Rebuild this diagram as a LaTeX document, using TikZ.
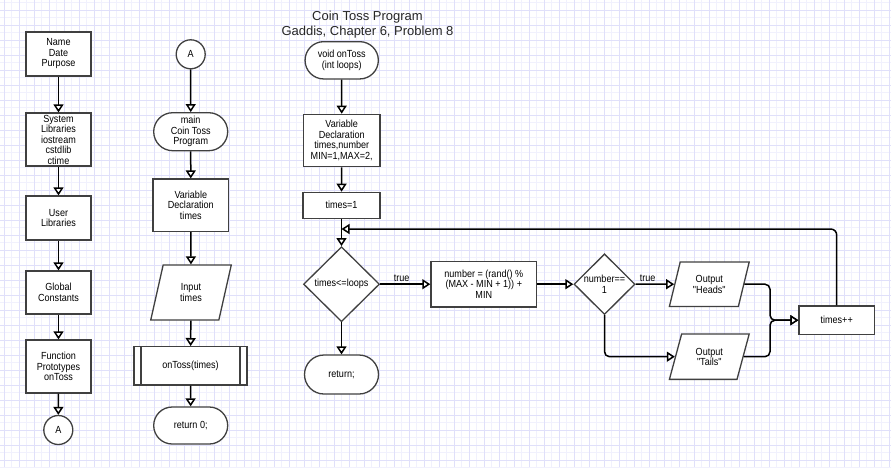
\documentclass[tikz,border=0pt]{standalone}
\usepackage{fontspec}
\setmainfont{Liberation Sans}
\newfontfamily\rf[FakeStretch=0.88]{Liberation Sans}
\usetikzlibrary{shapes.geometric,shapes.misc,arrows.meta}
\definecolor{gmajc}{RGB}{224,224,250}
\definecolor{gminc}{RGB}{241,241,253}
\begin{document}
\begin{tikzpicture}[x=1pt,y=-1pt,
  txt/.style={font=\rf\fontsize{10.3}{10.5}\selectfont, align=center, inner sep=0pt},
  shp/.style={txt, draw=black!75, line width=1.3pt, fill=white, inner sep=1pt},
  proc/.style={shp, rectangle},
  term/.style={shp, rounded rectangle},
  io/.style={shp, trapezium, trapezium stretches=true},
  dec/.style={draw=black!75, line width=1.3pt, fill=white, diamond, inner sep=0pt},
  conn/.style={circle, shp, minimum size=29pt},
  arr/.style={line width=1.5pt, -{Triangle[length=8pt,width=10pt,fill=white]}},
  gmaj/.style={gmajc, line width=1pt},
  gmin/.style={gminc, line width=1pt}
]
\useasboundingbox (0,0) rectangle (891,467);
\fill[white] (0,0) rectangle (891,467);
\foreach \k in {0,...,59} {
  \draw[gmin] ({11.5+15*\k},0) -- ({11.5+15*\k},467);
}
\foreach \k in {0,...,31} {
  \draw[gmin] (0,{2.5+15*\k}) -- (891,{2.5+15*\k});
}
\foreach \k in {0,...,59} {
  \draw[gmaj] ({4+15*\k},0) -- ({4+15*\k},467);
}
\foreach \k in {0,...,30} {
  \draw[gmaj] (0,{10+15*\k}) -- (891,{10+15*\k});
}

% title
\node[font=\fontsize{13}{15}\selectfont, align=center, text=black!85] (title) at (367.5,24.2)
  {Coin Toss Program\\Gaddis, Chapter 6, Problem 8};

% column 1
\node[proc, minimum width=65pt, minimum height=44pt] (n1) at (58.5,54) {Name\\Date\\Purpose};
\node[proc, minimum width=65pt, minimum height=53pt] (n2) at (58.5,139.5) {System\\Libraries\\iostream\\cstdlib\\ctime};
\node[proc, minimum width=65pt, minimum height=44pt] (n3) at (58.5,218) {User\\Libraries};
\node[proc, minimum width=65pt, minimum height=43pt] (n4) at (58.5,292.5) {Global\\Constants};
\node[proc, minimum width=65pt, minimum height=53pt] (n5) at (58.5,366.5) {Function\\Prototypes\\onToss};
\node[conn] (c1) at (58.3,430) {A};
\draw[arr] (n1) -- (n2);
\draw[arr] (n2) -- (n3);
\draw[arr] (n3) -- (n4);
\draw[arr] (n4) -- (n5);
\draw[arr] (n5) -- (c1);

% column 2
\node[conn] (c2) at (190.7,54.3) {A};
\node[term, minimum width=76pt, minimum height=38pt] (m1) at (190.7,131.7) {main\\Coin Toss\\Program};
\node[proc, minimum width=75.7pt, minimum height=52.3pt] (m2) at (190.8,205.2) {Variable\\Declaration\\times};
\node[io, trapezium left angle=75, trapezium right angle=105, minimum width=80.6pt, minimum height=55pt] (m3) at (191,292.5) {Input\\times};
\node[proc, minimum width=113pt, minimum height=38.3pt] (m4) at (190.5,365.8) {onToss(times)};
\draw[draw=black!75, line width=1.3pt] ([xshift=7.7pt]m4.north west) -- ([xshift=7.7pt]m4.south west);
\draw[draw=black!75, line width=1.3pt] ([xshift=-7.7pt]m4.north east) -- ([xshift=-7.7pt]m4.south east);
\node[term, minimum width=76pt, minimum height=37pt] (m5) at (190.7,425.5) {return 0;};
\draw[arr] (c2) -- (m1);
\draw[arr] (m1) -- (m2);
\draw[arr] (m2) -- (m3);
\draw[arr] (m3) -- (m4);
\draw[arr] (m4) -- (m5);

% column 3
\node[term, minimum width=75.3pt, minimum height=37.3pt] (t1) at (341.7,60.3) {void onToss\\(int loops)};
\node[proc, minimum width=76.7pt, minimum height=52.4pt] (t2) at (341.7,140.5) {Variable\\Declaration\\times,number\\MIN=1,MAX=2,};
\node[proc, minimum width=77pt, minimum height=26pt] (t3) at (341.5,205.3) {times=1};
\node[dec, minimum width=76pt, minimum height=75pt] (d1) at (341.5,284.2) {};
\node[txt] (d1t) at (d1) {times<=loops};
\node[term, minimum width=76pt, minimum height=39pt] (r1) at (341.5,374.5) {return;};
\node[proc, minimum width=105.7pt, minimum height=45.6pt] (b1) at (483.8,284.2) {number = (rand() \%\\(MAX - MIN + 1)) +\\MIN};
\node[dec, minimum width=61pt, minimum height=60.7pt] (d2) at (604.5,284.2) {};
\node[txt] (d2t) at (d2) {number==\\1};
\node[io, trapezium left angle=72, trapezium right angle=108, minimum width=80pt, minimum height=44.4pt] (o1) at (709.3,284.2) {Output\\"Heads"};
\node[io, trapezium left angle=72, trapezium right angle=108, minimum width=80pt, minimum height=45.3pt] (o2) at (709.3,356.7) {Output\\"Tails"};
\node[proc, minimum width=75.3pt, minimum height=28.3pt] (p1) at (836.7,320.2) {times++};
\coordinate (lj) at (341.5,229);
\coordinate (mg) at (770,320.2);

\draw[arr] (t1) -- (t2);
\draw[arr] (t2) -- (t3);
\draw[arr] (t3) -- (d1);
\draw[arr] (d1.east) -- node[txt, pos=0.43, yshift=6pt] (lt1) {true} (b1.west);
\draw[arr] (b1.east) -- (d2.west);
\draw[arr] (d2.east) -- node[txt, pos=0.31, yshift=6pt] (lt2) {true} (o1.west);
\draw[arr, rounded corners=5pt] (d2.south) |- (o2.west);
\draw[arr] (d1.south) -- (r1.north);
\draw[arr, rounded corners=5pt] (o1.east) -| (mg) -- (p1.west);
\draw[arr, rounded corners=5pt] (o2.east) -| (mg) -- (p1.west);
\draw[arr, rounded corners=6pt] (p1.north) |- (lj);
\end{tikzpicture}
\end{document}
